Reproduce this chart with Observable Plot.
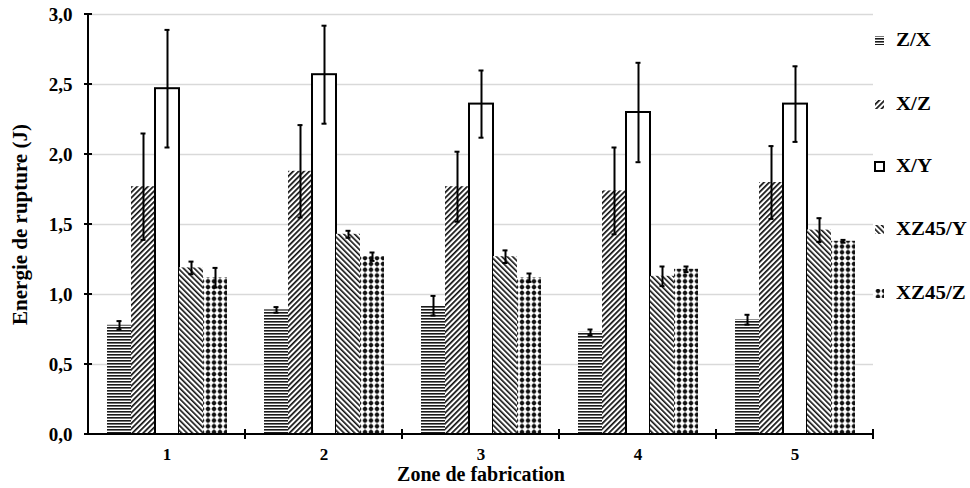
<!DOCTYPE html>
<html>
<head>
<meta charset="utf-8">
<script src="https://cdn.jsdelivr.net/npm/d3@7"></script>
<script src="https://cdn.jsdelivr.net/npm/@observablehq/plot@0.6"></script>
<style>
  body { margin: 0; background: #fff; }
  #wrap { position: relative; width: 970px; height: 488px; font-family: "Liberation Serif", "Times New Roman", serif; }
  #wrap svg.plot { position: absolute; left: 0; top: 0; }
  .leg { position: absolute; left: 874px; display: flex; align-items: center; font-weight: bold; font-size: 19px; height: 22px; white-space: nowrap; }
  .leg svg { width: 11px; height: 11px; margin-right: 11px; flex: none; }
  .leg span { display: inline-block; transform: scaleX(1.1); transform-origin: left center; }
</style>
</head>
<body>
<div id="wrap"></div>
<script>
const zones = ["1", "2", "3", "4", "5"];
const series = ["Z/X", "X/Z", "X/Y", "XZ45/Y", "XZ45/Z"];
const valZX    = [0.78, 0.89, 0.92, 0.73, 0.82];
const errZX    = [0.03, 0.02, 0.07, 0.02, 0.035];
const valXZ    = [1.77, 1.88, 1.77, 1.74, 1.80];
const errXZ    = [0.38, 0.33, 0.25, 0.31, 0.26];
const valXY    = [2.47, 2.57, 2.36, 2.30, 2.36];
const errXY    = [0.42, 0.35, 0.24, 0.355, 0.27];
const valXZ45Y = [1.19, 1.43, 1.27, 1.13, 1.46];
const errXZ45Y = [0.045, 0.025, 0.045, 0.07, 0.085];
const valXZ45Z = [1.12, 1.27, 1.12, 1.18, 1.38];
const errXZ45Z = [0.07, 0.03, 0.03, 0.02, 0.01];
const yTicks = [0, 0.5, 1, 1.5, 2, 2.5, 3];
const legendY = [40, 104, 166, 229, 293];

const vals = [valZX, valXZ, valXY, valXZ45Y, valXZ45Z];
const errs = [errZX, errXZ, errXY, errXZ45Y, errXZ45Z];
const patIds = ["p-zx", "p-xz", "p-xy", "p-xz45y", "p-xz45z"];

const data = [];
series.forEach((s, si) => zones.forEach((z, zi) => {
  data.push({zone: z, series: s, value: vals[si][zi], err: errs[si][zi]});
}));

const fmt = d => d.toFixed(1).replace(".", ",");

const barMarks = series.map((s, si) => Plot.barY(data.filter(d => d.series === s), {
  fx: "zone", x: "series", y: "value",
  fill: `url(#${patIds[si]})`,
  stroke: s === "X/Y" ? "black" : "none",
  strokeWidth: 2
}));

const fig = Plot.plot({
  width: 970,
  height: 488,
  marginLeft: 88,
  marginRight: 97,
  marginTop: 14,
  marginBottom: 54,
  style: {fontFamily: "Liberation Serif, Times New Roman, serif", background: "white", overflow: "visible"},
  fx: {domain: zones, padding: 0, label: null, axis: null},
  x: {domain: series, paddingInner: 0, paddingOuter: 0.77, axis: null},
  y: {domain: [0, 3], axis: null},
  marks: [
    Plot.gridY(yTicks.filter(t => t > 0), {stroke: "#d9d9d9", strokeOpacity: 1, strokeWidth: 1.3}),
    ...barMarks,
    Plot.ruleX(data, {fx: "zone", x: "series", y1: d => d.value - d.err, y2: d => d.value + d.err, stroke: "black", strokeWidth: 2}),
    Plot.tickY(data, {fx: "zone", x: "series", y: d => d.value + d.err, stroke: "black", strokeWidth: 2, inset: 9.5}),
    Plot.tickY(data, {fx: "zone", x: "series", y: d => d.value - d.err, stroke: "black", strokeWidth: 2, inset: 9.5}),
    Plot.axisY({ticks: yTicks, tickFormat: fmt, tickSize: 0, tickPadding: 16, fontSize: 19, fontWeight: "bold",
      label: "Energie de rupture (J)", labelAnchor: "center", labelArrow: "none", labelOffset: 76}),
    Plot.axisFx({anchor: "bottom", tickSize: 0, tickPadding: 13, fontSize: 17, fontWeight: "bold",
      label: "Zone de fabrication", labelAnchor: "center", labelArrow: "none", labelOffset: 46})
  ]
});
fig.classList.add("plot");

const svg = d3.select(fig);
// patterns
const defs = svg.insert("defs", ":first-child");
function stripes(id, w, sw, rot) {
  const p = defs.append("pattern").attr("id", id).attr("patternUnits", "userSpaceOnUse")
    .attr("width", w).attr("height", w).attr("patternTransform", `rotate(${rot})`);
  p.append("rect").attr("width", w).attr("height", w).attr("fill", "white");
  p.append("rect").attr("width", sw).attr("height", w).attr("fill", "#111");
}
{
  const p = defs.append("pattern").attr("id", "p-zx").attr("patternUnits", "userSpaceOnUse").attr("width", 6).attr("height", 3);
  p.append("rect").attr("width", 6).attr("height", 3).attr("fill", "white");
  p.append("rect").attr("width", 6).attr("height", 1.6).attr("fill", "#1a1a1a");
}
stripes("p-xz", 3.8, 1.7, 45);
stripes("p-xz45y", 3.8, 1.6, -45);
{
  const p = defs.append("pattern").attr("id", "p-xy").attr("patternUnits", "userSpaceOnUse").attr("width", 4).attr("height", 4);
  p.append("rect").attr("width", 4).attr("height", 4).attr("fill", "white");
}
{
  const p = defs.append("pattern").attr("id", "p-xz45z").attr("patternUnits", "userSpaceOnUse").attr("width", 6).attr("height", 5.8).attr("x", 1);
  p.append("rect").attr("width", 6).attr("height", 5.8).attr("fill", "white");
  p.append("line").attr("x1", 0).attr("x2", 6).attr("y1", 2.9).attr("y2", 2.9).attr("stroke", "#888").attr("stroke-width", 0.9);
  p.append("line").attr("x1", 3).attr("x2", 3).attr("y1", 0).attr("y2", 5.8).attr("stroke", "#888").attr("stroke-width", 0.9);
  p.append("circle").attr("cx", 3).attr("cy", 2.9).attr("r", 2.1).attr("fill", "#111");
}

// axis lines and ticks from the plot's own scales
const fx = fig.scale("fx"), y = fig.scale("y");
const x0 = fx.range[0], x1 = fx.range[1];
const y0 = y.apply(0), yTop = y.apply(3);
const ax = svg.append("g").attr("stroke", "black").attr("stroke-width", 2);
ax.append("line").attr("x1", x0).attr("x2", x0).attr("y1", y0).attr("y2", yTop);
ax.append("line").attr("x1", x0).attr("x2", x1).attr("y1", y0).attr("y2", y0);
yTicks.forEach(t => ax.append("line").attr("x1", x0 - 4).attr("x2", x0 + 4).attr("y1", y.apply(t)).attr("y2", y.apply(t)));
zones.forEach(z => {
  const xe = fx.apply(z) + fx.bandwidth;
  ax.append("line").attr("x1", xe).attr("x2", xe).attr("y1", y0 - 5).attr("y2", y0 + 5);
});
svg.selectAll('[aria-label="y-axis label"] text').attr("font-size", 21);
svg.selectAll('[aria-label="fx-axis label"] text').attr("font-size", 20);

const wrap = document.getElementById("wrap");
wrap.appendChild(fig);

// legend
series.forEach((s, i) => {
  const div = document.createElement("div");
  div.className = "leg";
  div.style.top = (legendY[i] - 11) + "px";
  const sw = d3.create("svg").attr("viewBox", "0 0 11 11");
  if (s === "X/Y") {
    sw.append("rect").attr("x", 1).attr("y", 1).attr("width", 9).attr("height", 9).attr("fill", "white").attr("stroke", "black").attr("stroke-width", 2);
  } else {
    sw.append("rect").attr("x", 1).attr("y", 1).attr("width", 9).attr("height", 9).attr("fill", `url(#${patIds[i]})`);
  }
  div.appendChild(sw.node());
  const span = document.createElement("span");
  span.textContent = s;
  div.appendChild(span);
  wrap.appendChild(div);
});
</script>
</body>
</html>
